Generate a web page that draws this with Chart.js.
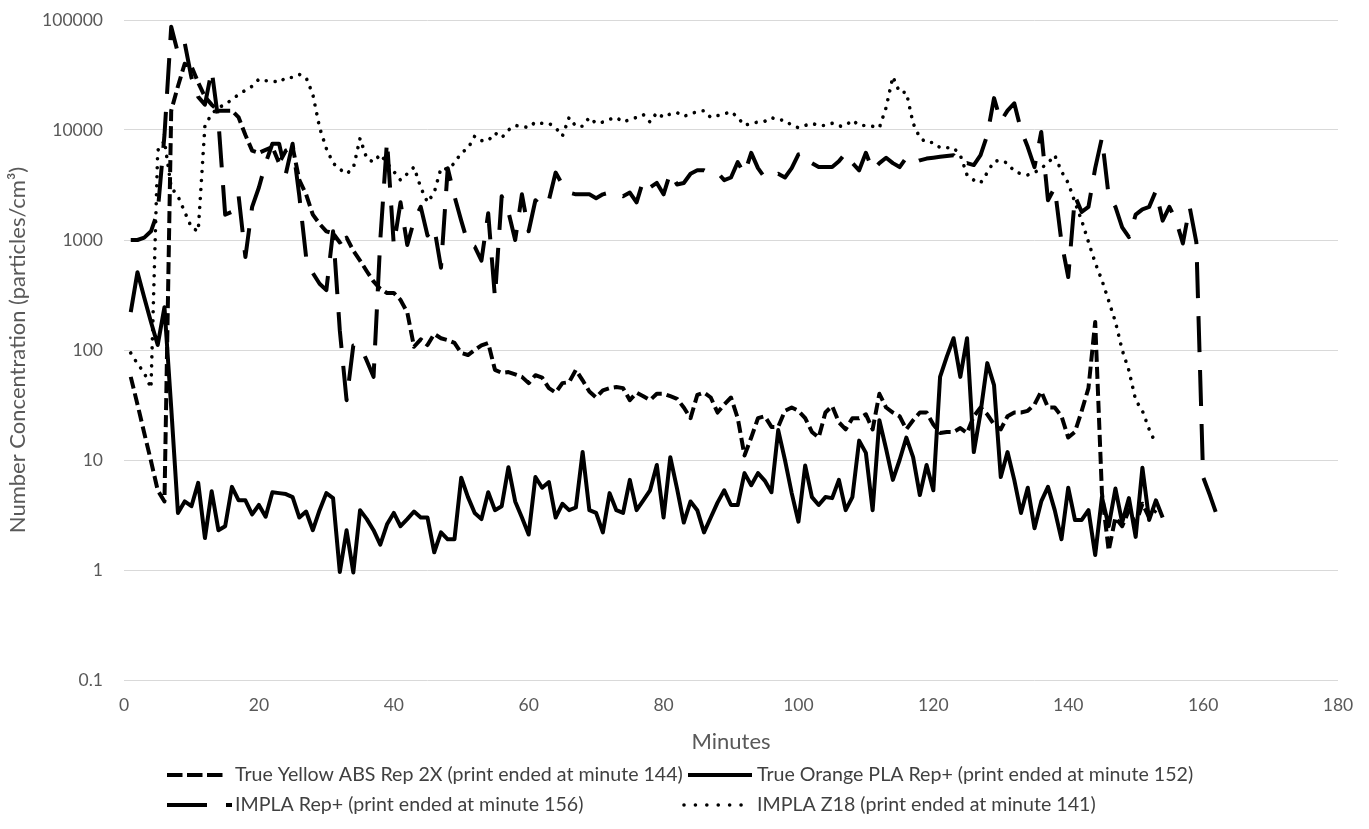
<!DOCTYPE html>
<html><head><meta charset="utf-8">
<script src="https://cdn.jsdelivr.net/npm/chart.js@4.4.0/dist/chart.umd.min.js"></script>
<style>html,body{margin:0;padding:0;background:#fff;}#wrap{width:1369px;height:829px;position:relative;}</style>
</head><body><div id="wrap"><canvas id="c"></canvas></div>
<script>
// ---- data (minute index starts at 1 for every series) ----
const seriesNames = [
  'True Yellow ABS Rep 2X (print ended at minute 144)',
  'True Orange PLA Rep+ (print ended at minute 152)',
  'IMPLA Rep+ (print ended at minute 156)',
  'IMPLA Z18 (print ended at minute 141)'
];
const startMinute = 1;
const yellowAbs = [
  57,32,17.6,9.8,5.3,4.2,15000,25000,40000,38000,
  27000,20000,17000,15000,15000,15000,13000,9000,6500,6200,
  6600,7000,5000,6500,7000,3500,2600,1700,1400,1200,
  1150,950,1050,800,650,520,420,360,330,330,
  285,220,107,125,111,140,128,123,116,94,
  90,100,110,116,66,62,63,60,57,50,
  59,56,45,41,50,51,66,53,42,37,
  43,45,46,45,35,41,38,35,40,40,
  38,36,30,24,39,41,37,27,32,37,
  24,11,16,24,25,20,20,28,30,28,
  24,18,16,27,31,22,19,24,24,26,
  19,40,30,27,25,19,23,27,27,21,
  17.6,18,18,19.5,17.6,25,30,26,21,19,
  25,27,27,28,32,42,30,30,25,16,
  18,28,45,180,5,1.5,3,2.5,3.5,2.6,
  4,3,3.5
];
const orangePla = [
  221,510,300,180,111,245,30,3.3,4.2,3.8,
  6.2,1.95,5.2,2.3,2.5,5.7,4.3,4.3,3.2,3.9,
  3.05,5.1,5.0,4.9,4.6,3.0,3.4,2.3,3.5,5.0,
  4.5,0.96,2.3,0.95,3.5,2.9,2.3,1.7,2.6,3.3,
  2.5,2.9,3.4,3.0,3.0,1.45,2.2,1.9,1.9,6.9,
  4.6,3.3,2.9,5.1,3.5,3.8,8.6,4.2,3.0,2.1,
  7.0,5.6,6.3,3.0,4.0,3.5,3.7,11.8,3.5,3.3,
  2.2,5.0,3.5,3.3,6.6,3.5,4.3,5.3,9.0,3.0,
  10.6,5.5,2.7,4.2,3.5,2.2,3.0,4.1,5.3,3.9,
  3.9,7.6,5.9,7.6,6.5,5.1,18.7,10,5,2.75,
  8.9,4.6,3.9,4.6,4.5,6.6,3.5,4.6,15,11.6,
  3.5,23,12.6,6.6,10,16,10.6,4.8,9,5.3,
  57,87,128,57,128,11.8,27,76,48,7.0,
  11.8,6.6,3.3,5.6,2.4,4.2,5.7,3.5,1.9,5.6,
  2.85,2.85,3.5,1.37,4.6,2.5,5.5,2.7,4.5,2.0,
  8.5,2.85,4.3,3.0
];
const implaRep = [
  1000,1000,1050,1200,1800,9000,87000,50000,62000,30000,
  20000,17000,35000,12000,1700,1800,2500,700,2000,3000,
  5000,7500,7500,4000,7500,2500,700,500,400,350,
  1200,150,35,110,110,80,57,1000,8000,900,
  2200,900,1500,2000,1100,1300,560,4500,2500,1500,
  930,870,650,1750,300,2500,1800,1000,2600,1200,
  2300,2000,2300,4100,3200,2700,2600,2600,2600,2400,
  2600,2700,2700,2500,2700,2200,3500,3000,3300,2600,
  4100,3200,3300,4000,4300,4300,4000,4100,3500,3700,
  5100,4000,6200,4500,3700,3700,4000,3700,4500,6000,
  6200,5000,4600,4600,4600,5200,6200,5000,4300,6200,
  4300,5000,5600,5000,4600,5600,5000,5300,5500,5600,
  5700,5800,5900,4800,5000,4800,5900,9000,19500,12000,
  15000,17500,10000,7000,4600,9600,2300,3000,960,460,
  2500,1800,2000,4500,8500,2500,2000,1300,1060,1700,
  1900,2000,2800,1500,2000,1500,930,2000,950,7,
  4.8,3.2
];
const implaZ18 = [
  94,75,62,45,6500,8000,3000,2500,1800,1300,
  1200,11000,14000,16000,17000,19000,21000,23000,25000,29000,
  28000,28000,27000,30000,30000,32000,30000,21000,10500,6800,
  5000,4400,4000,4500,8400,5500,5100,6000,5000,4200,
  3500,4000,4600,3000,2200,2700,4500,4400,5000,6200,
  6800,8800,8000,8000,9400,8500,10000,11000,10800,10500,
  11800,11500,11500,10500,8800,13000,10800,10800,13000,11500,
  11800,12500,13000,11800,12500,13000,13800,11800,14400,13000,
  14000,14400,13300,14000,14700,15000,13000,13500,14000,14700,
  13000,11000,11500,11800,12000,13000,12300,12300,11000,10500,
  11000,11500,11000,11000,11500,10800,11000,12300,11000,11000,
  10800,10500,16000,30500,22000,22000,11500,8500,7700,7700,
  6900,6900,6900,5900,3900,3500,3300,4100,5200,5300,
  5000,4200,4000,3900,4100,4500,5000,5900,4200,3300,
  2200,1500,960,620,430,280,180,100,65,35,
  28,19,14
];
const xTickValues = [0,20,40,60,80,100,120,140,160,180];
const yTickValues = [0.1,1,10,100,1000,10000,100000];
const yTickLabels = ['0.1','1','10','100','1000','10000','100000'];
const xTitle = 'Minutes';
const yTitle = 'Number Concentration (particles/cm\u00B3)';

function toPoints(vals){ return vals.map((v,i)=>({x:startMinute+i, y:v})); }

const seriesStyles = [
  {dash:[12,5], width:4, cap:'butt'},
  {dash:[], width:4, cap:'butt'},
  {dash:[36,18], width:4, cap:'butt'},
  {dash:[0.01,9], width:3.6, cap:'round'}
];
const legendLayout = [
  {x0:167, x1:223, y:775, tx:235, dash:[15.5,4.5], cap:'butt', w:4},
  {x0:688, x1:752, y:775, tx:757, dash:[], cap:'butt', w:4},
  {x0:167, x1:232, y:805, tx:235, dash:[40,19], cap:'butt', w:4},
  {x0:684, x1:746, y:805, tx:757, dash:[0.01,11.4], cap:'round', w:3.6}
];

const legendPlugin = {
  id:'customLegend',
  afterDraw(chart){
    const ctx = chart.ctx;
    ctx.save();
    legendLayout.forEach((it,i)=>{
      ctx.beginPath();
      ctx.setLineDash(it.dash);
      ctx.lineCap = it.cap;
      ctx.lineWidth = it.w;
      ctx.strokeStyle = '#000';
      ctx.moveTo(it.x0, it.y); ctx.lineTo(it.x1, it.y); ctx.stroke();
      ctx.setLineDash([]);
      ctx.fillStyle = '#404040';
      ctx.font = '19.6px Lato';
      ctx.textBaseline = 'middle';
      ctx.textAlign = 'left';
      ctx.fillText(chart.data.datasets[i].label, it.tx, it.y);
    });
    ctx.restore();
  }
};

Chart.defaults.font.family = 'Lato';
const allSeries = [yellowAbs, orangePla, implaRep, implaZ18];
new Chart(document.getElementById('c'), {
  type:'line',
  data:{
    datasets: allSeries.map((vals,i)=>({
      label: seriesNames[i],
      data: toPoints(vals),
      borderColor:'#000',
      backgroundColor:'#000',
      borderWidth: seriesStyles[i].width,
      borderDash: seriesStyles[i].dash,
      borderCapStyle: seriesStyles[i].cap,
      borderJoinStyle:'round',
      pointRadius:0,
      tension:0,
      fill:false
    }))
  },
  options:{
    responsive:true, maintainAspectRatio:false, animation:false,
    layout:{padding:{left:0,right:31,top:20,bottom:74}},
    plugins:{legend:{display:false}, tooltip:{enabled:false}},
    scales:{
      x:{
        type:'linear', min:0, max:180,
        afterBuildTicks(s){ s.ticks = xTickValues.map(v=>({value:v})); },
        ticks:{padding:15, color:'#595959', font:{size:17.5}, maxRotation:0, autoSkip:false},
        grid:{display:false, drawTicks:false},
        border:{display:false},
        title:{display:true, text:xTitle, color:'#595959', font:{size:22}, padding:0},
        afterFit(s){ s.height = 75; s.paddingLeft = 0; s.paddingRight = 0; }
      },
      y:{
        type:'logarithmic', min:0.1, max:100000,
        afterBuildTicks(s){ s.ticks = yTickValues.map(v=>({value:v})); },
        ticks:{padding:21, color:'#595959', font:{size:17.5}, autoSkip:false,
          callback:(v,i)=>yTickLabels[i]},
        grid:{color:'#d9d9d9', lineWidth:1, drawTicks:false},
        border:{display:false},
        title:{display:true, text:yTitle, color:'#595959', font:{size:22}, padding:{top:5,bottom:0}},
        afterFit(s){ s.width = 124; s.paddingTop = 0; s.paddingBottom = 0; }
      }
    }
  },
  plugins:[legendPlugin]
});
</script></body></html>
